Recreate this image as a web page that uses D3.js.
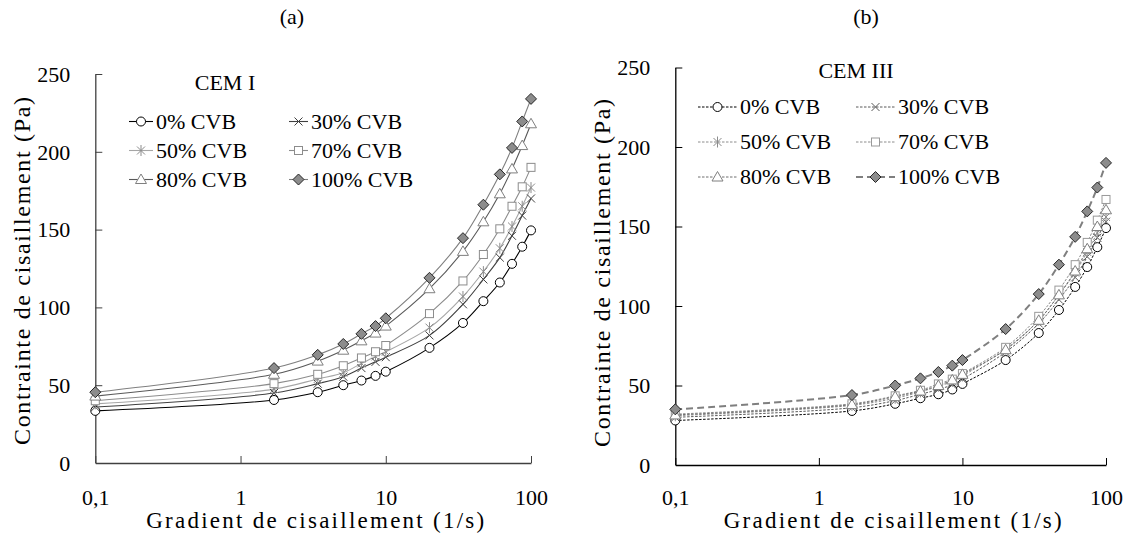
<!DOCTYPE html>
<html>
<head>
<meta charset="utf-8">
<script src="https://cdn.jsdelivr.net/npm/d3@7"></script>
<style>
  body { margin: 0; background: #fff; }
  text { font-family: "Liberation Serif", "Times New Roman", serif; fill: #000; }
</style>
</head>
<body>
<svg id="chart" width="1127" height="536"></svg>
<script>
// shear rate (1/s)
var shearRate = [0.1, 1.7, 3.4, 5.1, 6.8, 8.5, 10, 20, 34, 47, 61, 74, 87, 100];
var seriesNames = ["0% CVB", "30% CVB", "50% CVB", "70% CVB", "80% CVB", "100% CVB"];
var xTicks = [0.1, 1, 10, 100];
var yTicks = [0, 50, 100, 150, 200, 250];

// CEM I shear stress (Pa)
var cem1_0   = [33.5, 40.5, 45.5, 50, 53, 56, 58.7, 74, 90, 104, 116, 128, 139, 149.5];
var cem1_30  = [36, 45, 51, 55.5, 61, 65, 68, 82, 102, 118, 132, 146, 159, 170];
var cem1_50  = [38, 47.5, 54, 58, 64, 68.5, 71.5, 87, 107, 123, 138, 152, 165, 177];
var cem1_70  = [40, 51, 57, 62.5, 67.5, 71.5, 75.5, 96, 117, 134, 150.5, 165, 177.5, 190];
var cem1_80  = [43, 57, 65.5, 72.5, 78.5, 83.5, 88, 112, 136, 155, 173, 189, 204, 218];
var cem1_100 = [45.5, 61, 69.5, 76.5, 83, 88, 93, 119, 144.5, 166, 185.5, 202.5, 219.5, 234];

// CEM III shear stress (Pa)
var cem3_0   = [28, 34, 38.5, 42, 44.5, 47.5, 51, 66, 83, 97.5, 112, 124.5, 137, 149];
var cem3_30  = [30, 36, 40.5, 44.5, 47.5, 50.5, 54, 71, 89, 104, 118, 131, 143, 153];
var cem3_50  = [31, 37.5, 42, 46, 49.5, 52.5, 56, 73, 91, 107, 121, 134, 146, 156];
var cem3_70  = [32, 38.5, 43.5, 47, 51, 54, 57.5, 74, 93.5, 110, 126, 140, 154, 167];
var cem3_80  = [31.5, 38, 43, 46.5, 50, 53.5, 57, 72.5, 91, 107, 122, 136, 150, 160.5];
var cem3_100 = [35, 44, 50, 54.5, 58.5, 62.5, 66, 85.5, 107.5, 126, 143.5, 159.5, 174.5, 190];

var FONT = "Liberation Serif, Times New Roman, serif";
var svg = d3.select("#chart");

// marker shapes and colours per series
var styleA = [
  {mark: "circle",   line: "#000",    mk: "#000",    fill: "#fff"},
  {mark: "cross",    line: "#404040", mk: "#404040", fill: "none"},
  {mark: "asterisk", line: "#a6a6a6", mk: "#8c8c8c", fill: "none"},
  {mark: "square",   line: "#8c8c8c", mk: "#8c8c8c", fill: "#fff"},
  {mark: "triangle", line: "#595959", mk: "#7f7f7f", fill: "#fff"},
  {mark: "diamond",  line: "#7f7f7f", mk: "#262626", fill: "#8c8c8c"}
];
var styleB = [
  {mark: "circle",   line: "#000",    mk: "#000",    fill: "#fff",    dash: "2.5,1.5", w: 1},
  {mark: "cross",    line: "#595959", mk: "#595959", fill: "none",    dash: "2.5,1.5", w: 1},
  {mark: "asterisk", line: "#8c8c8c", mk: "#8c8c8c", fill: "none",    dash: "2.5,1.5", w: 1},
  {mark: "square",   line: "#8c8c8c", mk: "#999",    fill: "#fff",    dash: "2.5,1.5", w: 1},
  {mark: "triangle", line: "#6e6e6e", mk: "#7f7f7f", fill: "#fff",    dash: "2.5,1.5", w: 1},
  {mark: "diamond",  line: "#7f7f7f", mk: "#262626", fill: "#8c8c8c", dash: "7,4",     w: 2}
];

function drawMarker(g, type, x, y, st) {
  var m;
  if (type === "circle") {
    m = g.append("circle").attr("cx", x).attr("cy", y).attr("r", 4.5);
  } else if (type === "square") {
    m = g.append("rect").attr("x", x - 4).attr("y", y - 4).attr("width", 8).attr("height", 8);
  } else if (type === "triangle") {
    m = g.append("path").attr("d", `M${x},${y - 5.5}L${x + 5.5},${y + 4}L${x - 5.5},${y + 4}Z`);
  } else if (type === "diamond") {
    m = g.append("path").attr("d", `M${x},${y - 5.5}L${x + 5.5},${y}L${x},${y + 5.5}L${x - 5.5},${y}Z`);
  } else if (type === "cross") {
    m = g.append("path").attr("d", `M${x - 4},${y - 4}L${x + 4},${y + 4}M${x - 4},${y + 4}L${x + 4},${y - 4}`);
  } else {
    m = g.append("path").attr("d", `M${x - 4},${y - 4}L${x + 4},${y + 4}M${x - 4},${y + 4}L${x + 4},${y - 4}M${x},${y - 5.5}L${x},${y + 5.5}`);
  }
  m.attr("fill", st.fill).attr("stroke", st.mk).attr("stroke-width", 1);
}

function drawPanel(cfg) {
  var x = d3.scaleLog().domain([0.1, 100]).range(cfg.xRange);
  var y = d3.scaleLinear().domain([0, 250]).range(cfg.yRange);
  var g = svg.append("g").attr("font-family", FONT);

  // axes
  var xAxis = g.append("g")
    .attr("transform", `translate(0,${cfg.yRange[0]})`)
    .call(d3.axisBottom(x).tickValues(xTicks).tickSizeInner(-7).tickSizeOuter(0)
      .tickFormat(d => String(d).replace(".", ",")));
  xAxis.attr("font-family", FONT).attr("font-size", 22);
  xAxis.select(".domain").attr("stroke", cfg.axisColor).attr("stroke-width", 1.3);
  xAxis.selectAll("line").attr("stroke", cfg.axisColor);
  // tick labels sit on a common baseline for both panels
  xAxis.selectAll("text").attr("y", 505 - cfg.yRange[0]).attr("dy", 0).attr("fill", "#000");

  var yAxis = g.append("g")
    .attr("transform", `translate(${cfg.xRange[0]},0)`)
    .call(d3.axisLeft(y).tickValues(yTicks).tickSizeInner(-7).tickSizeOuter(0));
  yAxis.attr("font-family", FONT).attr("font-size", 22);
  yAxis.select(".domain").attr("stroke", cfg.axisColor).attr("stroke-width", 1.3);
  yAxis.selectAll("line").attr("stroke", cfg.axisColor);
  yAxis.selectAll("text").attr("x", -25).attr("dy", "0.33em").attr("fill", "#000");
  yAxis.selectAll(".tick").filter(d => d === 0).select("line").remove();

  // axis titles
  g.append("text")
    .attr("x", (cfg.xRange[0] + cfg.xRange[1]) / 2 + 2)
    .attr("y", 528)
    .attr("text-anchor", "middle")
    .attr("font-size", 23)
    .attr("textLength", 338)
    .text("Gradient de cisaillement  (1/s)");
  g.append("text")
    .attr("transform", `translate(${cfg.yTitleX},${cfg.yTitleY}) rotate(-90)`)
    .attr("text-anchor", "middle")
    .attr("font-size", 24)
    .attr("textLength", 348)
    .text("Contrainte de cisaillement (Pa)");

  // panel label
  g.append("text")
    .attr("x", cfg.labelX).attr("y", 24)
    .attr("text-anchor", "middle")
    .attr("font-size", 22)
    .text(cfg.label);

  // series
  var line = d3.line()
    .x((d, i) => x(shearRate[i]))
    .y(d => y(d))
    .curve(d3.curveCatmullRom.alpha(0.5));

  cfg.series.forEach(function(vals, k) {
    var st = cfg.styles[k];
    g.append("path")
      .attr("d", line(vals))
      .attr("fill", "none")
      .attr("stroke", st.line)
      .attr("stroke-width", st.w || 1.1)
      .attr("stroke-dasharray", st.dash || null);
  });
  cfg.series.forEach(function(vals, k) {
    var st = cfg.styles[k];
    vals.forEach(function(v, i) {
      drawMarker(g, st.mark, x(shearRate[i]), y(v), st);
    });
  });

  // legend
  g.append("text")
    .attr("x", cfg.legTitle[0]).attr("y", cfg.legTitle[1])
    .attr("text-anchor", "middle")
    .attr("font-size", 22)
    .text(cfg.title);

  seriesNames.forEach(function(name, k) {
    var st = cfg.styles[k];
    var col = k % 2, row = Math.floor(k / 2);
    var lx = cfg.legCols[col];
    var cy = cfg.legRows[row];
    g.append("line")
      .attr("x1", lx[0]).attr("x2", lx[1])
      .attr("y1", cy).attr("y2", cy)
      .attr("stroke", st.line)
      .attr("stroke-width", st.w || 1.1)
      .attr("stroke-dasharray", st.dash || null);
    drawMarker(g, st.mark, (lx[0] + lx[1]) / 2, cy, st);
    g.append("text")
      .attr("x", lx[1] + 3).attr("y", cy + 7)
      .attr("font-size", 22)
      .text(name);
  });
}

drawPanel({
  xRange: [95.3, 531], yRange: [463, 74],
  axisColor: "#404040",
  yTitleX: 30, yTitleY: 271,
  label: "(a)", labelX: 292,
  title: "CEM I", legTitle: [225, 90],
  legCols: [[129, 153], [289, 308]],
  legRows: [121.5, 150.5, 179.5],
  styles: styleA,
  series: [cem1_0, cem1_30, cem1_50, cem1_70, cem1_80, cem1_100]
});

drawPanel({
  xRange: [675.3, 1106], yRange: [465, 67.5],
  axisColor: "#000",
  yTitleX: 610, yTitleY: 273,
  label: "(b)", labelX: 866,
  title: "CEM III", legTitle: [856, 78],
  legCols: [[698, 737], [856, 895]],
  legRows: [107, 142, 177],
  styles: styleB,
  series: [cem3_0, cem3_30, cem3_50, cem3_70, cem3_80, cem3_100]
});
</script>
</body>
</html>
